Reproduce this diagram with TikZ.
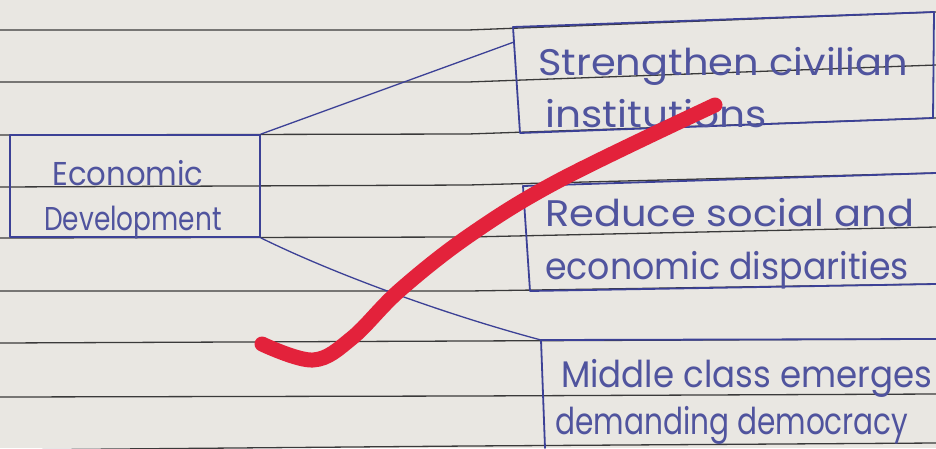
\documentclass[tikz,border=0pt]{standalone}
\usepackage{fontspec}
\setmainfont{Poppins}
\definecolor{paper}{HTML}{E9E7E2}
\definecolor{ink}{HTML}{3C4196}
\definecolor{inktext}{HTML}{50549E}
\definecolor{rulecol}{HTML}{3A3A3A}
\definecolor{checkred}{HTML}{E3223B}
\begin{document}
\begin{tikzpicture}[x=1pt,y=-1pt,
  ruled/.style={draw=rulecol,line width=1.3pt},
  inkline/.style={draw=ink,line width=1.8pt,line cap=round,line join=round},
  hand/.style={text=inktext,font=\fontsize{37}{45}\selectfont,inner sep=0pt,anchor=base west},
  handsmall/.style={hand,font=\fontsize{33}{45}\selectfont,anchor=base},
  boxnode/.style={inkline,minimum width=250pt,minimum height=102pt,inner sep=0pt},
]
\fill[paper] (0,0) rectangle (936,448);
\useasboundingbox (0,0) rectangle (936,448);
% ruled lines of the paper
\foreach \a/\b/\c in {30/30/12, 82/82/65, 135/134/118, 187/185/173, 238/237/227, 291/291/284, 343/341/339, 397/396/394, 450/446/443}
  \draw[ruled] (0,\a) -- (468,\b) -- (936,\c);
% box 1
\node[boxnode] (econ) at (135,186) {};
\node[handsmall] (e1) at (128,185) {\scalebox{0.93}[1]{Economic}};
\node[handsmall] (e2) at (133,230) {\scalebox{0.8}[1]{Development}};
% box 2
\coordinate (b2tl) at (513,27);
\coordinate (b2tr) at (934,12);
\coordinate (b2br) at (933,118);
\coordinate (b2bl) at (520,133);
\coordinate (b2in) at (514,42);
\draw[inkline] (b2bl) -- (b2tl) -- (b2tr) -- (b2br) -- cycle;
\node[hand] (s1) at (538,75) {\scalebox{1.08}[1]{Strengthen civilian}};
\node[hand] (s2) at (545,127) {\scalebox{1.1}[1]{institutions}};
% box 3
\coordinate (b3tl) at (523,186);
\coordinate (b3bl) at (530,291);
\draw[inkline] (936,173) -- (b3tl) -- (b3bl) -- (936,284);
\node[hand] (r1) at (545,226) {\scalebox{1.08}[1]{Reduce social and}};
\node[hand] (r2) at (545,279) {\scalebox{0.94}[1]{economic disparities}};
% box 4
\coordinate (b4tl) at (541,340);
\coordinate (b4bl) at (545,448);
\draw[inkline] (936,339) -- (b4tl) -- (b4bl);
\node[hand] (m1) at (561,387) {\scalebox{0.92}[1]{Middle class emerges}};
\node[hand] (m2) at (555,434) {\scalebox{0.8}[1]{demanding democracy}};
% connectors
\draw[inkline,line width=1.3pt] (econ.north east) -- (b2in);
\draw[inkline,line width=1.3pt] (econ.south east) .. controls (330,272) and (440,313) .. (b4tl);
% red check mark
\draw[checkred,line width=15pt,line cap=round,line join=round]
  plot[smooth,tension=0.6] coordinates {(262,344) (313,360) (352,338) (400,290) (470,235) (560,180) (715,105)};
\end{tikzpicture}
\end{document}
